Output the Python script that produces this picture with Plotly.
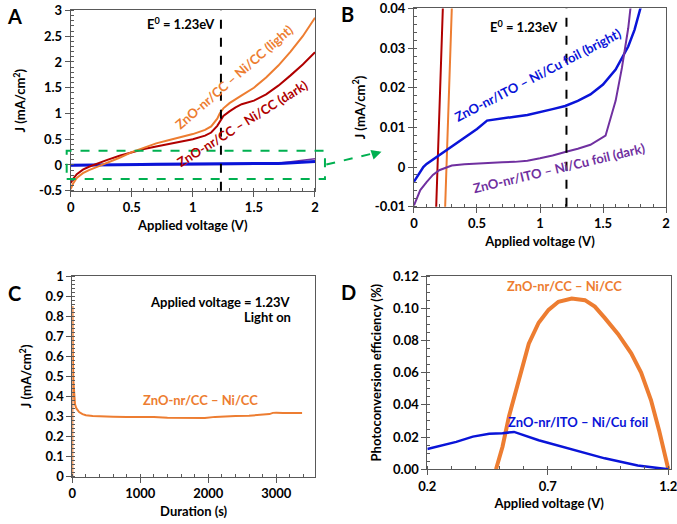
import plotly.graph_objects as go

# ---------------- data ----------------
# Panel A/B: J-V curves
v_light = [0, 0.02, 0.05, 0.1, 0.15, 0.2, 0.26, 0.3, 0.4, 0.5, 0.6, 0.7, 0.8, 0.9, 1.0, 1.1, 1.15,
           1.2, 1.22, 1.25, 1.3, 1.4, 1.5, 1.6, 1.7, 1.8, 1.9, 2.0]
j_light = [-0.47, -0.36, -0.25, -0.16, -0.1, -0.055, 0.0, 0.04, 0.14, 0.25, 0.34, 0.42, 0.48, 0.54, 0.6,
           0.68, 0.75, 0.9, 1.0, 1.1, 1.2, 1.35, 1.5, 1.7, 1.93, 2.2, 2.5, 2.86]

v_dark = [0, 0.02, 0.05, 0.1, 0.15, 0.185, 0.2, 0.25, 0.3, 0.4, 0.5, 0.6, 0.7, 0.8, 0.9, 1.0, 1.1, 1.15,
          1.2, 1.25, 1.3, 1.35, 1.4, 1.5, 1.6, 1.7, 1.8, 1.9, 2.0]
j_dark = [-0.35, -0.27, -0.18, -0.09, -0.035, 0.0, 0.015, 0.06, 0.1, 0.18, 0.25, 0.31, 0.36, 0.41, 0.45,
          0.5, 0.57, 0.63, 0.76, 0.95, 1.04, 1.12, 1.18, 1.25, 1.37, 1.54, 1.74, 1.95, 2.19]

v_ito_bright = [0, 0.05, 0.074, 0.1, 0.18, 0.3, 0.4, 0.5, 0.58, 0.7, 0.8, 0.9, 1.0, 1.1, 1.2, 1.3, 1.4,
                1.5, 1.6, 1.7, 1.75, 1.8, 1.9, 2.0]
j_ito_bright = [-0.0037, -0.0013, 0.0, 0.0008, 0.0026, 0.0052, 0.0074, 0.0096, 0.0117, 0.0123, 0.0127,
                0.0131, 0.0138, 0.0146, 0.0154, 0.0167, 0.0183, 0.0208, 0.0246, 0.0304, 0.0346, 0.040,
                0.052, 0.068]

v_ito_dark = [0, 0.05, 0.1, 0.15, 0.2, 0.3, 0.4, 0.5, 0.6, 0.7, 0.8, 0.9, 1.0, 1.1, 1.2, 1.3, 1.4, 1.52,
              1.6, 1.65, 1.7, 1.72, 1.8, 1.9, 2.0]
j_ito_dark = [-0.0097, -0.0058, -0.0038, -0.002, -0.0008, 0.0004, 0.0007, 0.0009, 0.0011, 0.0012, 0.0013,
              0.0016, 0.0022, 0.0029, 0.0038, 0.0046, 0.0056, 0.0079, 0.0167, 0.025, 0.035, 0.040, 0.062,
              0.09, 0.12]

# Panel C: chronoamperometry
t_s = [0, 3, 8, 15, 25, 40, 60, 80, 100, 150, 200, 300, 400, 600, 800, 1000, 1200, 1400, 1600, 1800,
       1950, 2100, 2250, 2400, 2600, 2800, 2850, 2900, 2950, 3000, 3100, 3200, 3300, 3380]
j_t = [0.0, 0.85, 0.62, 0.48, 0.4, 0.36, 0.34, 0.33, 0.322, 0.312, 0.306, 0.302, 0.3, 0.299, 0.298, 0.299,
       0.297, 0.294, 0.292, 0.291, 0.292, 0.298, 0.302, 0.303, 0.304, 0.307, 0.308, 0.312, 0.318, 0.319,
       0.317, 0.317, 0.318, 0.317]

# Panel D: photoconversion efficiency
v_eff_cc = [0.485, 0.512, 0.539, 0.567, 0.594, 0.621, 0.662, 0.703, 0.744, 0.799, 0.854, 0.895, 0.936,
            0.991, 1.046, 1.087, 1.128, 1.162, 1.2]
eff_cc = [0.0, 0.014, 0.033, 0.049, 0.064, 0.078, 0.091, 0.099, 0.104, 0.106, 0.105, 0.101, 0.094, 0.084,
          0.072, 0.060, 0.043, 0.024, 0.0]
v_eff_ito = [0.2, 0.266, 0.32, 0.389, 0.457, 0.512, 0.56, 0.662, 0.799, 0.936, 1.073, 1.2]
eff_ito = [0.0126, 0.0151, 0.017, 0.0203, 0.022, 0.0224, 0.0232, 0.018, 0.0124, 0.0068, 0.0023, 0.0]

# tick labels
a_yticks = [-0.5, 0, 0.5, 1, 1.5, 2, 2.5, 3]
a_yticktext = ["-0.5", "0", "0.5", "1", "1.5", "2", "2.5", "3"]
v_ticks = [0, 0.5, 1, 1.5, 2]
v_ticktext = ["0", "0.5", "1", "1.5", "2"]
b_yticks = [-0.01, 0, 0.01, 0.02, 0.03, 0.04]
b_yticktext = ["-0.01", "0", "0.01", "0.02", "0.03", "0.04"]
c_xticks = [0, 1000, 2000, 3000]
c_xticktext = ["0", "1000", "2000", "3000"]
c_yticks = [0, 0.1, 0.2, 0.3, 0.4, 0.5, 0.6, 0.7, 0.8, 0.9, 1]
c_yticktext = ["0", "0.1", "0.2", "0.3", "0.4", "0.5", "0.6", "0.7", "0.8", "0.9", "1"]
d_xticks = [0.2, 0.7, 1.2]
d_xticktext = ["0.2", "0.7", "1.2"]
d_yticks = [0, 0.02, 0.04, 0.06, 0.08, 0.10, 0.12]
d_yticktext = ["0.00", "0.02", "0.04", "0.06", "0.08", "0.10", "0.12"]

E0 = 1.23

# ---------------- styling ----------------
ORANGE = "#ED7D31"
DARKRED = "#B00000"
BLUE = "#0A14D8"
PURPLE = "#7030A0"
GREEN = "#00B050"
AXC = "#595959"
FONT = "Lato"

fig = go.Figure()

# A
fig.add_trace(go.Scatter(x=v_ito_dark, y=j_ito_dark, mode="lines", line=dict(color=PURPLE, width=1.5),
                         xaxis="x", yaxis="y", showlegend=False))
fig.add_trace(go.Scatter(x=v_ito_bright, y=j_ito_bright, mode="lines", line=dict(color=BLUE, width=3),
                         xaxis="x", yaxis="y", showlegend=False))
fig.add_trace(go.Scatter(x=v_dark, y=j_dark, mode="lines", line=dict(color=DARKRED, width=2),
                         xaxis="x", yaxis="y", showlegend=False))
fig.add_trace(go.Scatter(x=v_light, y=j_light, mode="lines", line=dict(color=ORANGE, width=2),
                         xaxis="x", yaxis="y", showlegend=False))
# B
fig.add_trace(go.Scatter(x=v_dark, y=j_dark, mode="lines", line=dict(color=DARKRED, width=2),
                         xaxis="x2", yaxis="y2", showlegend=False))
fig.add_trace(go.Scatter(x=v_light, y=j_light, mode="lines", line=dict(color=ORANGE, width=2),
                         xaxis="x2", yaxis="y2", showlegend=False))
fig.add_trace(go.Scatter(x=v_ito_bright, y=j_ito_bright, mode="lines", line=dict(color=BLUE, width=2.5),
                         xaxis="x2", yaxis="y2", showlegend=False))
fig.add_trace(go.Scatter(x=v_ito_dark, y=j_ito_dark, mode="lines", line=dict(color=PURPLE, width=2),
                         xaxis="x2", yaxis="y2", showlegend=False))
# C
fig.add_trace(go.Scatter(x=t_s, y=j_t, mode="lines", line=dict(color=ORANGE, width=2),
                         xaxis="x3", yaxis="y3", showlegend=False))
# D
fig.add_trace(go.Scatter(x=v_eff_cc, y=eff_cc, mode="lines", line=dict(color=ORANGE, width=4),
                         xaxis="x4", yaxis="y4", showlegend=False))
fig.add_trace(go.Scatter(x=v_eff_ito, y=eff_ito, mode="lines", line=dict(color=BLUE, width=2.5),
                         xaxis="x4", yaxis="y4", showlegend=False))

tickfont = dict(family=FONT, size=13, color="black", weight="bold")
titlefont = dict(family=FONT, size=13, color="black", weight="bold")


def ax(domain, rng, title, standoff, minor_dtick, tickvals, ticktext, **kw):
    d = dict(domain=domain, range=rng, showline=True, mirror=True, linecolor=AXC, linewidth=1,
             ticks="outside", ticklen=5, tickcolor=AXC, showgrid=False, zeroline=False,
             tickfont=tickfont, automargin=False, ticklabeloverflow="allow",
             tickmode="array", tickvals=tickvals, ticktext=ticktext,
             title=dict(text=title, font=titlefont, standoff=standoff),
             minor=dict(dtick=minor_dtick, ticks="inside", ticklen=3, tickcolor=AXC, showgrid=False))
    d.update(kw)
    return d


fig.update_layout(
    width=677, height=524, margin=dict(l=0, r=0, t=0, b=0),
    plot_bgcolor="white", paper_bgcolor="white",
    font=dict(family=FONT, color="black"),
    xaxis=ax([0.1044, 0.4653], [0, 2.0001], "Applied voltage (V)", 6, 0.1, v_ticks, v_ticktext, anchor="y"),
    yaxis=ax([0.636, 0.9800], [-0.5001, 3.0001], "J (mA/cm<sup>2</sup>)", 10, 0.1, a_yticks, a_yticktext,
             anchor="x"),
    xaxis2=ax([0.6115, 0.9838], [0, 2.0001], "Applied voltage (V)", 6, 0.1, v_ticks, v_ticktext, anchor="y2"),
    yaxis2=ax([0.6055, 0.9840], [-0.01001, 0.04001], "J (mA/cm<sup>2</sup>)", 6, 0.002, b_yticks, b_yticktext,
              anchor="x2"),
    xaxis3=ax([0.1068, 0.4653], [0, 3570], "Duration (s)", 6, 200, c_xticks, c_xticktext, anchor="y3"),
    yaxis3=ax([0.0903, 0.4733], [0, 1.0001], "J (mA/cm<sup>2</sup>)", 10, 0.02, c_yticks, c_yticktext,
              anchor="x3"),
    xaxis4=ax([0.6312, 0.9911], [0.2, 1.211], "Applied voltage (V)", 6, 0.1, d_xticks, d_xticktext,
              anchor="y4"),
    yaxis4=ax([0.1044, 0.4733], [0, 0.12001], "Photoconversion efficiency (%)", 8, 0.005, d_yticks,
              d_yticktext, anchor="x4"),
)

# E0 dashed lines
fig.add_shape(type="line", xref="x", yref="y domain", x0=E0, x1=E0, y0=0, y1=1,
              line=dict(color="black", width=2, dash="dash"))
fig.add_shape(type="line", xref="x2", yref="y2 domain", x0=1.21, x1=1.21, y0=0, y1=1,
              line=dict(color="black", width=2, dash="dash"))

# green zoom box and arrow (paper coords)
fig.add_shape(type="rect", xref="paper", yref="paper", x0=0.0985, x1=0.480, y0=0.6584, y1=0.7124,
              line=dict(color=GREEN, width=2, dash="dash"))
fig.add_shape(type="line", xref="paper", yref="paper", x0=0.482, y0=0.686, x1=0.557, y1=0.709,
              line=dict(color=GREEN, width=2, dash="dash"))
fig.add_annotation(xref="paper", yref="paper", x=0.5635, y=0.7105, ax=-9, ay=3, text="",
                   showarrow=True, arrowhead=2, arrowsize=1, arrowwidth=2, arrowcolor=GREEN)


def note(text, x, y, xr, yr, color="black", size=13, angle=0, xanchor="center"):
    fig.add_annotation(text=text, x=x, y=y, xref=xr, yref=yr, showarrow=False, textangle=angle,
                       xanchor=xanchor, yanchor="middle",
                       font=dict(family=FONT, size=size, color=color, weight="bold"))


# A texts
note("E<sup>0</sup> = 1.23eV", 0.9, 2.74, "x", "y")
note("ZnO-nr/CC – Ni/CC (light)", 1.337, 1.70, "x", "y", ORANGE, 13, -41)
note("ZnO-nr/CC – Ni/CC (dark)", 1.41, 0.81, "x", "y", DARKRED, 13, -32)
# B texts
note("E<sup>0</sup> = 1.23eV", 0.87, 0.0354, "x2", "y2")
note("ZnO-nr/ITO – Ni/Cu foil (bright)", 0.98, 0.0233, "x2", "y2", BLUE, 13, -27.5)
note("ZnO-nr/ITO – Ni/Cu foil (dark)", 1.15, -0.0003, "x2", "y2", PURPLE, 13, -13.4)
# C texts
note("Applied voltage = 1.23V", 3245, 0.872, "x3", "y3", xanchor="right")
note("Light on", 3245, 0.794, "x3", "y3", xanchor="right")
note("ZnO-nr/CC – Ni/CC", 1890, 0.382, "x3", "y3", ORANGE)
# D texts
note("ZnO-nr/CC – Ni/CC", 0.768, 0.1138, "x4", "y4", ORANGE)
note("ZnO-nr/ITO – Ni/Cu foil", 0.827, 0.0295, "x4", "y4", BLUE)

# panel letters
for letter, px, py in [("A", 14, 16), ("B", 347, 14), ("C", 14, 293), ("D", 348, 292)]:
    fig.add_annotation(text=letter, x=px / 677, y=1 - py / 524, xref="paper", yref="paper",
                       showarrow=False, xanchor="center", yanchor="middle",
                       font=dict(family=FONT, size=20, color="black", weight="bold"))

fig.write_html("out.html")
